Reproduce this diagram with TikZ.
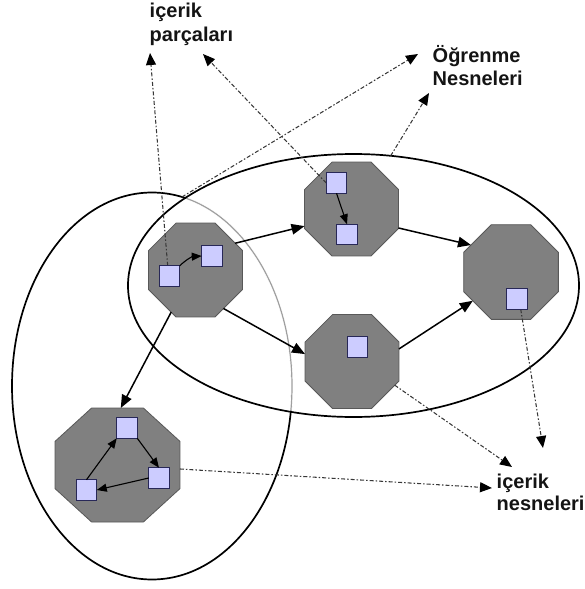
\documentclass[tikz,border=0pt]{standalone}
\usepackage{fontspec}
\setmainfont{Liberation Sans}
\usetikzlibrary{arrows.meta,shapes.geometric,calc}
\pgfdeclarelayer{ellipses}
\pgfdeclarelayer{cells}
\pgfdeclarelayer{links}
\pgfsetlayers{ellipses,cells,links,main}
\definecolor{cellfill}{RGB}{128,128,128}
\definecolor{celledge}{RGB}{88,88,88}
\definecolor{itemfill}{RGB}{204,204,255}
\definecolor{itemedge}{RGB}{40,40,88}
\definecolor{linkgray}{RGB}{55,55,55}
\definecolor{ink}{RGB}{20,20,20}
\tikzset{
  groupring/.style={ellipse, draw=black, line width=1.7pt, outer sep=0pt, inner sep=0pt},
  cellshape/.style={regular polygon, regular polygon sides=8, fill=cellfill, draw=celledge,
    line width=0.8pt, inner sep=0pt, outer sep=0pt, minimum size=#1},
  itembox/.style={rectangle, fill=itemfill, draw=itemedge, line width=1.3pt,
    minimum size=20.5pt, inner sep=0pt, outer sep=0pt},
  flowarrow/.style={line width=1.5pt, -{Triangle[length=13pt,width=10.5pt]}},
  innerarrow/.style={line width=1.1pt, -{Triangle[length=10pt,width=8pt]}},
  refarrow/.style={linkgray, line width=1.05pt, dash pattern=on 4pt off 2pt on 1.5pt off 2pt,
    -{Triangle[length=12pt,width=10pt,color=black]}},
  tagtext/.style={anchor=base west, inner sep=0pt, text=ink,
    font=\bfseries\fontsize{20}{22}\selectfont},
}
\begin{document}
\begin{tikzpicture}[x=1pt,y=-1pt]
\useasboundingbox (0,0) rectangle (584,589);

% the two learning-object groupings
\begin{pgfonlayer}{ellipses}
  \node[groupring, minimum width=280pt, minimum height=387pt] (L) at (152,386) {};
  \node[groupring, minimum width=451pt, minimum height=263pt] (R) at (353.5,285.5) {};
  \begin{scope}
    \clip (353.5,285.5) ellipse [x radius=224.2pt, y radius=130.2pt];
    \draw[white, line width=3pt] (152,386) ellipse [x radius=140pt, y radius=193.5pt];
    \draw[gray!75, line width=1.2pt] (152,386) ellipse [x radius=140pt, y radius=193.5pt];
  \end{scope}
\end{pgfonlayer}

% content objects
\begin{pgfonlayer}{cells}
  \node[cellshape=101.7pt] (A) at (195.5,270) {};
  \node[cellshape=101.7pt] (B) at (351.5,209) {};
  \node[cellshape=101.7pt] (C) at (352,361.5) {};
  \node[cellshape=102.5pt] (D) at (511,272) {};
  \begin{scope}[shift={(117.5,465)}, xscale=1.096]
    \node[cellshape=123.4pt, transform shape] (E) at (0,0) {};
  \end{scope}
\end{pgfonlayer}

% content pieces
\node[itembox] (a1) at (169.5,276) {};
\node[itembox] (a2) at (212,256) {};
\node[itembox] (b1) at (336.5,183) {};
\node[itembox] (b2) at (347,234.5) {};
\node[itembox] (c1) at (357.5,347) {};
\node[itembox] (d1) at (517,299) {};
\node[itembox] (e1) at (127,428) {};
\node[itembox] (e2) at (159,478) {};
\node[itembox] (e3) at (86.5,490) {};

% labels
\node[tagtext] (p1) at (149.5,17) {içerik};
\node[tagtext] (p2) at (149.5,41.5) {parçaları};
\node[tagtext] (o1) at (432.5,62.5) {Öğrenme};
\node[tagtext] (o2) at (432.5,85) {Nesneleri};
\node[tagtext] (n1) at (496.5,488.5) {içerik};
\node[tagtext] (n2) at (496.5,510.5) {nesneleri};

% free ends of the pointer arrows
\coordinate (t1) at (150,53);
\coordinate (t2) at (203,54);
\coordinate (t3) at (418,54);
\coordinate (t4) at (429,93);
\coordinate (t5) at (512,467);
\coordinate (t6) at (543,448);
\coordinate (t7) at (492,488);

\begin{pgfonlayer}{links}
  \draw[refarrow] (a1.100) -- (t1);
  \draw[refarrow] (b1.west) -- (t2);
  \draw[refarrow] (L.81) -- (t3);
  \draw[refarrow] (R.74) -- (t4);
  \draw[refarrow] (C.331) -- (t5);
  \draw[refarrow] (d1.-70) -- (t6);
  \draw[refarrow] (E.-4) -- (t7);

  \draw[flowarrow] (A.34) -- (B.200);
  \draw[flowarrow] (A.306) -- (C.171);
  \draw[flowarrow] (B.338) -- (D.146);
  \draw[flowarrow] (C.15) -- (D.217);
  \draw[flowarrow] (A.240) -- (E.87);
\end{pgfonlayer}

% links between pieces inside an object
\draw[innerarrow] (a1.north east) to[bend left=20] (a2.west);
\draw[innerarrow] (b1.south) -- (b2.north);
\draw[innerarrow] (e1.south east) -- (e2.north);
\draw[innerarrow] (e2.west) -- (e3.east);
\draw[innerarrow] (e3.north) -- (e1.south west);
\end{tikzpicture}
\end{document}
